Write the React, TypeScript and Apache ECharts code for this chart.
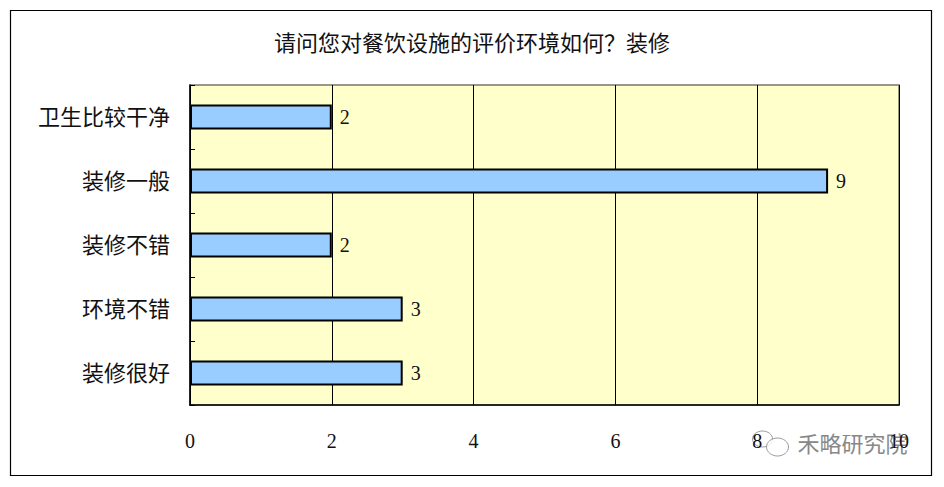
import React, { useEffect, useRef } from "react";
import * as echarts from "echarts";

const titleText = "请问您对餐饮设施的评价环境如何？装修";
const categories = ["卫生比较干净", "装修一般", "装修不错", "环境不错", "装修很好"];
const values = [2, 9, 2, 3, 3];
const xTicks = { min: 0, max: 10, interval: 2 };
const watermark = "禾略研究院";

const FONT = "'Liberation Serif', 'Noto Sans CJK SC', serif";

export default function App() {
  const ref = useRef<HTMLDivElement>(null);
  useEffect(() => {
    if (!ref.current) return;
    const chart = echarts.init(ref.current, null, { renderer: "svg" });
    chart.setOption({
      animation: false,
      backgroundColor: "#ffffff",
      title: {
        text: titleText,
        left: "center",
        top: 27,
        textStyle: { fontFamily: FONT, fontSize: 22, fontWeight: "normal", color: "#111" },
      },
      grid: {
        left: 190,
        right: 45,
        top: 85,
        bottom: 82,
        show: true,
        backgroundColor: "#FFFFCC",
        borderColor: "#777766",
        borderWidth: 1.5,
      },
      xAxis: {
        type: "value",
        min: xTicks.min,
        max: xTicks.max,
        interval: xTicks.interval,
        axisLine: { show: true, lineStyle: { color: "#000", width: 1.5 } },
        axisTick: { show: false },
        axisLabel: { fontFamily: FONT, fontSize: 20, color: "#111", margin: 26 },
        splitLine: { show: true, lineStyle: { color: "#000", width: 1 } },
      },
      yAxis: {
        type: "category",
        data: categories,
        inverse: true,
        axisLine: { show: true, lineStyle: { color: "#000", width: 1.5 } },
        axisTick: { show: true, inside: true, length: 5, lineStyle: { color: "#000" } },
        axisLabel: { fontFamily: FONT, fontSize: 22, color: "#111", margin: 20 },
      },
      series: [
        {
          type: "bar",
          data: values,
          barWidth: "39%",
          itemStyle: { color: "#99CCFF", borderColor: "#000", borderWidth: 2 },
          label: {
            show: true,
            position: "right",
            distance: 8,
            fontFamily: FONT,
            fontSize: 20,
            color: "#111",
          },
        },
      ],
      graphic: [
        {
          type: "rect",
          shape: { x: 10.5, y: 10.5, width: 921, height: 465 },
          style: { fill: "none", stroke: "#000", lineWidth: 1.2 },
          silent: true,
        },
        {
          type: "group",
          left: 752,
          top: 430,
          z: 100,
          children: [
            { type: "ellipse", shape: { cx: 12, cy: 8, rx: 10, ry: 8 }, style: { fill: "rgba(255,255,255,0.8)", stroke: "#999", lineWidth: 1 } },
            { type: "ellipse", shape: { cx: 27, cy: 16, rx: 11, ry: 9 }, style: { fill: "rgba(255,255,255,0.8)", stroke: "#999", lineWidth: 1 } },
            {
              type: "text",
              x: 47,
              y: 0,
              style: { text: watermark, fontFamily: "'Noto Sans CJK SC', sans-serif", fontSize: 22, fill: "#888", stroke: "#fff", lineWidth: 2 },
            },
          ],
        },
      ],
    });
    return () => chart.dispose();
  }, []);
  return <div ref={ref} style={{ position: "fixed", left: 0, top: 0, width: 944, height: 487 }} />;
}
